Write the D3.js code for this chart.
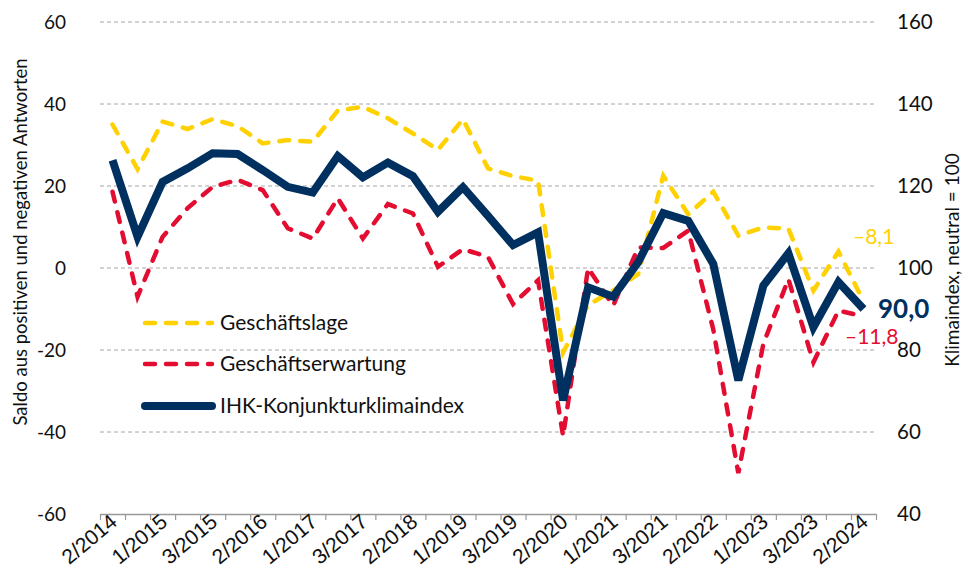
<!DOCTYPE html>
<html>
<head>
<meta charset="utf-8">
<script src="https://cdn.jsdelivr.net/npm/d3@7"></script>
<style>
  body { margin: 0; background: #fff; }
  svg { display: block; }
</style>
</head>
<body>
<svg id="chart" width="967" height="588"></svg>
<script>
// survey periods (3 per year), 2/2014 .. 2/2024
const periods = [];
for (let y = 2014; y <= 2024; y++) {
  for (let q = 1; q <= 3; q++) {
    if ((y === 2014 && q < 2) || (y === 2024 && q > 2)) continue;
    periods.push(q + "/" + y);
  }
}

// Geschäftslage, Saldo
const lage = [35.0, 24.1, 35.7, 33.9, 36.3, 34.6, 30.4, 31.2, 30.8, 38.4, 39.3,
  36.5, 32.8, 28.8, 36.3, 24.3, 22.4, 21.3, -20.6, -9.0, -5.5, -1.5, 22.5, 13.1,
  18.6, 7.9, 9.9, 9.6, -5.5, 4.0, -8.1];

// Geschäftserwartung, Saldo
const erwartung = [18.6, -7.0, 7.6, 14.6, 19.8, 21.5, 19.0, 9.7, 7.2, 17.0, 7.2,
  15.6, 13.3, 0.3, 4.6, 2.7, -8.8, -3.0, -41.0, 0.0, -9.2, 5.0, 4.9, 9.1,
  -15.0, -50.0, -18.5, -2.7, -23.0, -10.4, -11.8];

// IHK-Konjunkturklimaindex (right axis)
const klima = [126.3, 107.6, 121.0, 124.3, 128.0, 127.8, 123.9, 119.8, 118.4,
  127.3, 122.1, 125.7, 122.4, 113.7, 119.7, 112.7, 105.6, 108.7, 67.7, 95.3,
  93.0, 101.4, 113.4, 111.5, 101.0, 72.6, 95.7, 103.6, 85.6, 96.6, 90.0];

const leftTicks = [-60, -40, -20, 0, 20, 40, 60];
const rightTicks = [40, 60, 80, 100, 120, 140, 160];

const colors = { lage: "#ffd100", erwartung: "#e30d32", klima: "#00305f" };
const tickFont = "'Liberation Sans Narrow', 'Arial Narrow', 'Liberation Sans', sans-serif";
const textFont = "Lato, 'Open Sans', sans-serif";

const margin = { top: 22, right: 91, bottom: 74, left: 100 };
const width = 967, height = 588;

const svg = d3.select("#chart");

// x: one band per survey
const x = d3.scaleBand()
  .domain(periods)
  .range([margin.left, width - margin.right])
  .padding(0);
const xEdge = d3.scaleLinear()
  .domain([0, periods.length])
  .range([margin.left, width - margin.right]);

const yL = d3.scaleLinear().domain([-60, 60]).range([height - margin.bottom, margin.top]);
const yR = d3.scaleLinear().domain([40, 160]).range([height - margin.bottom, margin.top]);

// gridlines
svg.append("g")
  .selectAll("line")
  .data(leftTicks.filter(d => d !== -60))
  .join("line")
  .attr("x1", margin.left)
  .attr("x2", width - margin.right)
  .attr("y1", d => yL(d))
  .attr("y2", d => yL(d))
  .attr("stroke", "#a6a6a6")
  .attr("stroke-width", 1)
  .attr("stroke-dasharray", "4,3");

// x axis with ticks at band edges
const xAxis = svg.append("g")
  .attr("transform", "translate(0," + yL(-60) + ")")
  .call(d3.axisBottom(xEdge)
    .tickValues(d3.range(periods.length + 1))
    .tickFormat("")
    .tickSize(6)
    .tickSizeOuter(0));
xAxis.select(".domain").attr("stroke", "#999").attr("stroke-width", 1.5);
xAxis.selectAll(".tick line").attr("stroke", "#999").attr("stroke-width", 1.2);

// x labels, every second survey
svg.append("g")
  .selectAll("text")
  .data(periods.filter((d, i) => i % 2 === 0))
  .join("text")
  .attr("transform", d => "translate(" + (x(d) + x.bandwidth() / 2 + 6) + "," + (yL(-60) + 10) + ") rotate(-40)")
  .attr("text-anchor", "end")
  .attr("font-family", tickFont)
  .attr("font-size", 21)
  .attr("fill", "#111")
  .text(d => d);

// left axis labels
svg.append("g")
  .selectAll("text")
  .data(leftTicks)
  .join("text")
  .attr("x", 66)
  .attr("y", d => yL(d))
  .attr("dy", "0.35em")
  .attr("text-anchor", "end")
  .attr("font-family", textFont)
  .attr("font-size", 19)
  .attr("fill", "#111")
  .text(d => d);

// right axis labels
svg.append("g")
  .selectAll("text")
  .data(rightTicks)
  .join("text")
  .attr("x", 897)
  .attr("y", d => yR(d))
  .attr("dy", "0.35em")
  .attr("font-family", textFont)
  .attr("font-size", 20.5)
  .attr("fill", "#111")
  .text(d => d);

// axis titles
svg.append("text")
  .attr("transform", "translate(27,242) rotate(-90)")
  .attr("text-anchor", "middle")
  .attr("font-family", textFont)
  .attr("font-size", 18.5)
  .attr("fill", "#111")
  .text("Saldo aus positiven und negativen Antworten");

svg.append("text")
  .attr("transform", "translate(959,260) rotate(-90)")
  .attr("text-anchor", "middle")
  .attr("font-family", textFont)
  .attr("font-size", 19)
  .attr("fill", "#111")
  .text("Klimaindex, neutral = 100");

// lines
const cx = d => x(d) + x.bandwidth() / 2;
const lineL = d3.line().x((d, i) => cx(periods[i])).y(d => yL(d));
const lineR = d3.line().x((d, i) => cx(periods[i])).y(d => yR(d));

svg.append("path")
  .datum(lage)
  .attr("d", lineL)
  .attr("fill", "none")
  .attr("stroke", colors.lage)
  .attr("stroke-width", 4.5)
  .attr("stroke-linecap", "round")
  .attr("stroke-dasharray", "10,11");

svg.append("path")
  .datum(erwartung)
  .attr("d", lineL)
  .attr("fill", "none")
  .attr("stroke", colors.erwartung)
  .attr("stroke-width", 4.5)
  .attr("stroke-linecap", "round")
  .attr("stroke-dasharray", "10,11");

svg.append("path")
  .datum(klima)
  .attr("d", lineR)
  .attr("fill", "none")
  .attr("stroke", colors.klima)
  .attr("stroke-width", 8)
  .attr("stroke-linejoin", "miter");

// end labels
const last = periods.length - 1;
const fmt = v => (v < 0 ? "\u2013" : "") + Math.abs(v).toFixed(1).replace(".", ",");

svg.append("text")
  .attr("x", 853).attr("y", yL(lage[last]) - 57)
  .attr("font-family", textFont).attr("font-size", 21)
  .attr("fill", colors.lage)
  .text(fmt(lage[last]));

svg.append("text")
  .attr("x", 878).attr("y", yR(klima[last]) + 9)
  .attr("font-family", textFont).attr("font-size", 26).attr("font-weight", "bold")
  .attr("fill", colors.klima)
  .text(fmt(klima[last]));

svg.append("text")
  .attr("x", 845).attr("y", yL(erwartung[last]) + 28)
  .attr("font-family", textFont).attr("font-size", 21)
  .attr("fill", colors.erwartung)
  .text(fmt(erwartung[last]));

// legend
const legend = [
  { name: "Geschäftslage", color: colors.lage, dash: "10,11", w: 4.5, y: 323 },
  { name: "Geschäftserwartung", color: colors.erwartung, dash: "10,11", w: 4.5, y: 364 },
  { name: "IHK-Konjunkturklimaindex", color: colors.klima, dash: null, w: 8, y: 406 }
];
const lg = svg.append("g").selectAll("g").data(legend).join("g");
lg.append("line")
  .attr("x1", 145).attr("x2", 212)
  .attr("y1", d => d.y).attr("y2", d => d.y)
  .attr("stroke", d => d.color)
  .attr("stroke-width", d => d.w)
  .attr("stroke-linecap", "round")
  .attr("stroke-dasharray", d => d.dash);
lg.append("text")
  .attr("x", 220).attr("y", d => d.y)
  .attr("dy", "0.35em")
  .attr("font-family", textFont)
  .attr("font-size", 21)
  .attr("fill", "#111")
  .text(d => d.name);
</script>
</body>
</html>
